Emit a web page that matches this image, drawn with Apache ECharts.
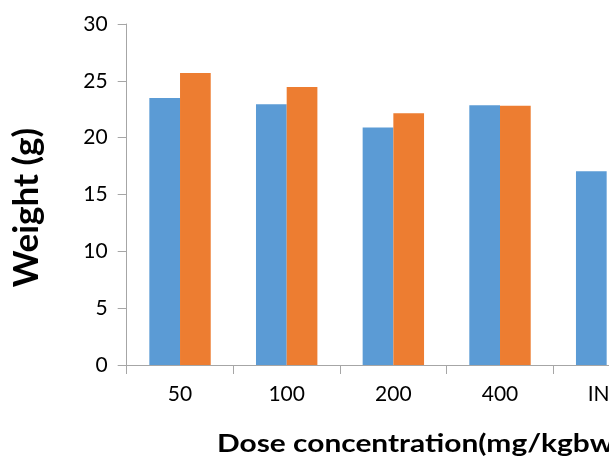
<!DOCTYPE html>
<html><head><meta charset="utf-8">
<script src="https://cdn.jsdelivr.net/npm/echarts@6/dist/echarts.min.js"></script>
<style>html,body{margin:0;padding:0;background:#fff}#c{width:609px;height:459px}</style>
</head><body><div id="c"></div>
<script>
const categories = ['50', '100', '200', '400', 'INH'];
const seriesA = [23.5, 22.95, 20.9, 22.85, 17.05];
const seriesB = [25.7, 24.45, 22.15, 22.8, null];
const yTicks = [0, 5, 10, 15, 20, 25, 30];
const xTitle = 'Dose concentration(mg/kgbw)';
const yTitle = 'Weight (g)';

const chart = echarts.init(document.getElementById('c'), null, {renderer: 'canvas'});
const axisGray = '#A6A6A6';
const font = 'Lato, Carlito, "Open Sans", sans-serif';
chart.setOption({
  animation: false,
  backgroundColor: '#fff',
  graphic: [
    {type: 'text', x: 217, y: 444, scaleX: 1.22, style: {text: xTitle, fontFamily: font, fontWeight: 'bold', fontSize: 24.5, fill: '#000', textAlign: 'left', textVerticalAlign: 'middle'}},
    {type: 'text', x: 27, y: 207.5, rotation: Math.PI / 2, style: {text: yTitle, fontFamily: font, fontWeight: 'bold', fontSize: 35, fill: '#000', textAlign: 'center', textVerticalAlign: 'middle'}}
  ],
  grid: {left: 126.7, width: 533.3, top: 24, bottom: 94, containLabel: false, outerBoundsMode: 'none'},
  xAxis: {
    type: 'category', data: categories,
    axisLine: {lineStyle: {color: axisGray, width: 1}},
    axisTick: {show: true, length: 9, lineStyle: {color: axisGray}},
    axisLabel: {fontFamily: font, fontSize: 21, color: '#000', margin: 19}
  },
  yAxis: {
    type: 'value', min: yTicks[0], max: yTicks[yTicks.length - 1], interval: 5,
    axisLine: {show: true, lineStyle: {color: axisGray, width: 1}},
    axisTick: {show: true, length: 9, lineStyle: {color: axisGray}},
    splitLine: {show: false},
    axisLabel: {fontFamily: font, fontSize: 21, color: '#000', margin: 19}
  },
  series: [
    {type: 'bar', data: seriesA, barWidth: 30.7, barGap: '0%', itemStyle: {color: '#5B9BD5'}},
    {type: 'bar', data: seriesB, barWidth: 30.7, barGap: '0%', itemStyle: {color: '#ED7D31'}}
  ]
});
</script></body></html>
